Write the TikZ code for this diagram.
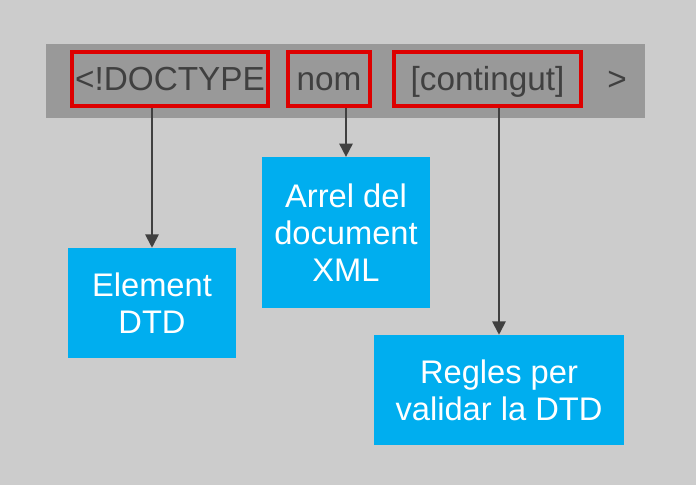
\documentclass[tikz,border=0pt]{standalone}
\usepackage{fontspec}
\setmainfont{Liberation Sans}
\usetikzlibrary{arrows.meta}
\definecolor{bg}{HTML}{CCCCCC}
\definecolor{bar}{HTML}{999999}
\definecolor{ink}{HTML}{404040}
\definecolor{frame}{HTML}{DD0000}
\definecolor{sky}{HTML}{00AEEF}
\tikzset{
  px/.style={x=0.75pt,y=-0.75pt},
  bartext/.style={text=ink,font=\fontsize{25}{30}\selectfont,text height=18pt,text depth=0pt,inner sep=0pt},
  redbox/.style={bartext,draw=frame,line width=2.8pt,minimum height=40.5pt},
  bluebox/.style={fill=sky,text=white,align=center,inner sep=0pt,font=\fontsize{24.5}{28}\selectfont},
  conn/.style={draw=ink,line width=1.4pt,-{Triangle[width=10pt,length=10pt]}}
}
\begin{document}
\begin{tikzpicture}[px]
\fill[bg] (0,0) rectangle (696,485);
\useasboundingbox (0,0) rectangle (696,485);
\fill[bar] (46,44) rectangle (645,118);
\node[redbox,minimum width=147pt] (doc) at (170,79) {<!DOCTYPE};
\node[redbox,minimum width=61.5pt] (nom) at (329,79) {nom};
\node[redbox,minimum width=140pt] (cont) at (487.5,79) {[contingut]};
\node[bartext] (gt) at (617,79) {>};
\node[bluebox,minimum width=126pt,minimum height=82.5pt] (elem) at (152,303) {Element\\DTD};
\node[bluebox,minimum width=126pt,minimum height=113pt] (arrel) at (346,232.5) {Arrel del\\document\\XML};
\node[bluebox,minimum width=187.5pt,minimum height=82.5pt] (regles) at (499,390) {Regles per\\validar la DTD};
\draw[conn] (doc.south -| elem.north) -- (elem.north);
\draw[conn] (nom.south -| arrel.north) -- (arrel.north);
\draw[conn] (cont.south -| regles.north) -- (regles.north);
\end{tikzpicture}
\end{document}
